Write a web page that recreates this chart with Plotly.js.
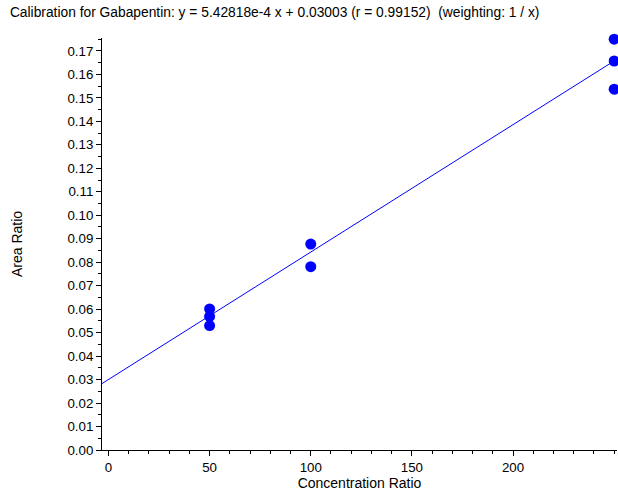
<!DOCTYPE html>
<html>
<head>
<meta charset="utf-8">
<script src="https://cdn.plot.ly/plotly-3.0.1.min.js"></script>
<style>html,body{margin:0;padding:0;background:#fff;}#chart{width:618px;height:491px;}</style>
</head>
<body>
<div id="chart"></div>
<script>
var concentration = [50, 50, 50, 100, 100, 250, 250, 250];
var areaRatio = [0.0601, 0.0569, 0.0530, 0.0877, 0.0781, 0.1750, 0.1657, 0.1537];
var slope = 5.42818e-4;
var intercept = 0.03003;
var xRange = [-3.2, 251.4];
var yRange = [0, 0.1755];
var yTicks = [0,0.01,0.02,0.03,0.04,0.05,0.06,0.07,0.08,0.09,0.10,0.11,0.12,0.13,0.14,0.15,0.16,0.17];
var yTickText = yTicks.map(function(v){return v.toFixed(2);});
var xTicks = [0, 50, 100, 150, 200];

var fitX = [xRange[0], Math.max.apply(null, concentration)];
var fitY = fitX.map(function(x){return slope * x + intercept;});

var fam = 'Liberation Sans, Arial, sans-serif';
var tickFont = {family: fam, size: 13.3, color: '#000'};
var axisTitleFont = {family: fam, size: 14, color: '#000'};

var traces = [
  {x: fitX, y: fitY, type: 'scatter', mode: 'lines', line: {color: '#0000ff', width: 1}, hoverinfo: 'skip', cliponaxis: false},
  {x: concentration, y: areaRatio, type: 'scatter', mode: 'markers', marker: {color: '#0000ff', size: 11}, cliponaxis: false}
];

var layout = {
  width: 618, height: 491,
  margin: {l: 102, r: 1, t: 38, b: 41},
  paper_bgcolor: '#fff', plot_bgcolor: '#fff',
  showlegend: false,
  font: tickFont,
  title: {text: 'Calibration for Gabapentin: y = 5.42818e-4 x + 0.03003 (r = 0.99152)  (weighting: 1 / x)', x: 0.016, xanchor: 'left', y: 0.975, yanchor: 'middle', font: {family: fam, size: 13.8, color: '#000'}},
  xaxis: {
    range: xRange, showgrid: false, zeroline: false, showline: true, linecolor: '#000', linewidth: 1,
    ticks: 'outside', ticklen: 5, tickcolor: '#000', tickvals: xTicks, ticktext: xTicks.map(String),
    minor: {ticks: 'outside', ticklen: 3, tickcolor: '#000', dtick: 10, tick0: 0},
    tickfont: tickFont,
    title: {text: 'Concentration Ratio', font: axisTitleFont, standoff: 5}
  },
  yaxis: {
    range: yRange, showgrid: false, zeroline: false, showline: true, linecolor: '#000', linewidth: 1,
    ticks: 'outside', ticklen: 5, tickcolor: '#000', tickvals: yTicks, ticktext: yTickText,
    minor: {ticks: 'outside', ticklen: 3, tickcolor: '#000', dtick: 0.005, tick0: 0},
    tickfont: tickFont,
    title: {text: 'Area Ratio', font: axisTitleFont, standoff: 41}
  }
};

Plotly.newPlot('chart', traces, layout, {displayModeBar: false, staticPlot: true});
</script>
</body>
</html>
